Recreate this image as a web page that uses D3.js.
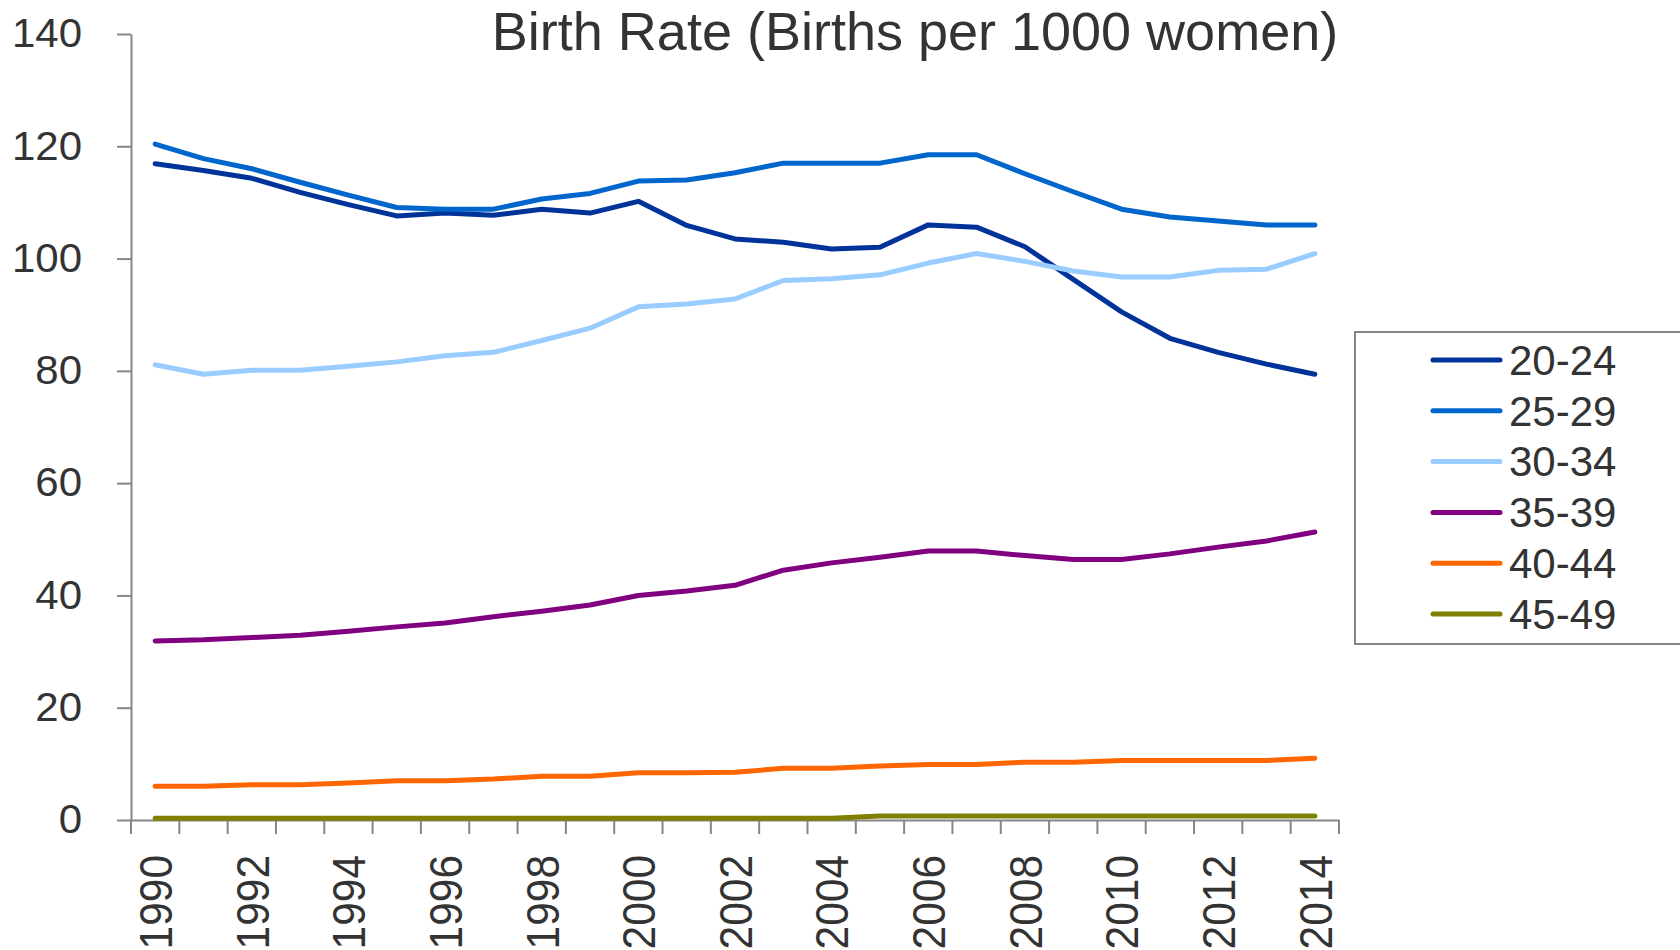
<!DOCTYPE html>
<html>
<head>
<meta charset="utf-8">
<title>Birth Rate</title>
<script src="https://cdn.jsdelivr.net/npm/d3@7"></script>
<style>
    body { margin: 0; background: #ffffff; }
    text { font-family: "Liberation Sans", Arial, sans-serif; fill: #333333; }
    .axis path, .axis line { stroke: #868686; stroke-width: 2; }
</style>
</head>
<body>
<div id="chart"></div>
<script>

// categories
const years = [1990, 1991, 1992, 1993, 1994, 1995, 1996, 1997, 1998, 1999, 2000, 2001, 2002,
               2003, 2004, 2005, 2006, 2007, 2008, 2009, 2010, 2011, 2012, 2013, 2014];

const yearLabels = [1990, 1992, 1994, 1996, 1998, 2000, 2002, 2004, 2006, 2008, 2010, 2012, 2014];

const yTicks = [0, 20, 40, 60, 80, 100, 120, 140];

// series values (births per 1000 women)
const age2024 = [116.9, 115.7, 114.3, 111.8, 109.6, 107.6, 108.1, 107.7, 108.8, 108.1, 110.2, 105.9, 103.5,
                 102.9, 101.7, 102.0, 106.0, 105.6, 102.1, 96.3, 90.5, 85.8, 83.3, 81.2, 79.4];
const age2529 = [120.4, 117.8, 116.0, 113.6, 111.3, 109.1, 108.8, 108.8, 110.6, 111.6, 113.8, 114.0, 115.3,
                 117.0, 117.0, 117.0, 118.5, 118.5, 115.1, 111.9, 108.8, 107.4, 106.7, 106.0, 106.0];
const age3034 = [81.1, 79.4, 80.1, 80.1, 80.8, 81.6, 82.7, 83.3, 85.4, 87.6, 91.4, 91.9, 92.8,
                 96.1, 96.4, 97.1, 99.2, 100.9, 99.5, 97.8, 96.7, 96.7, 97.9, 98.1, 100.9];
const age3539 = [31.9, 32.1, 32.5, 32.9, 33.6, 34.4, 35.1, 36.2, 37.2, 38.3, 40.0, 40.8, 41.8,
                 44.5, 45.8, 46.8, 47.9, 47.9, 47.1, 46.4, 46.4, 47.4, 48.6, 49.7, 51.3];
const age4044 = [6.0, 6.0, 6.3, 6.3, 6.6, 7.0, 7.0, 7.3, 7.8, 7.8, 8.4, 8.4, 8.5,
                 9.2, 9.2, 9.6, 9.9, 9.9, 10.3, 10.3, 10.6, 10.6, 10.6, 10.6, 11.0];
const age4549 = [0.3, 0.3, 0.3, 0.3, 0.3, 0.3, 0.3, 0.3, 0.3, 0.3, 0.3, 0.3, 0.3,
                 0.3, 0.3, 0.7, 0.7, 0.7, 0.7, 0.7, 0.7, 0.7, 0.7, 0.7, 0.7];

const seriesNames = ['20-24', '25-29', '30-34', '35-39', '40-44', '45-49'];
const seriesColors = ['#003399', '#0066cc', '#99ccff', '#800080', '#ff6600', '#808000'];
const seriesValues = [age2024, age2529, age3034, age3539, age4044, age4549];


function createSVG(containerId, width, height) {

    try {

        let svg = d3.select(containerId)
            .append('svg')
            .attr('width', width)
            .attr('height', height)
            .attr('viewBox', '0 0 ' + width + ' ' + height);
        return svg;

    } catch (error) {

        console.log('createSVG. Error: ' + error);
        return null;
    }
}

function drawAxes(svg, x, y) {

    try {

        // y axis
        svg.append('g')
            .attr('class', 'axis')
            .attr('transform', 'translate(' + x.range()[0] + ',0)')
            .call(d3.axisLeft(y).tickValues(yTicks).tickSize(14).tickSizeOuter(0))
            .selectAll('text')
            .style('font-size', '40px')
            .attr('fill', '#333333')
            .attr('x', 0)
            .attr('transform', 'translate(-49,0) scale(1.05,1)');

        // x axis line and labels
        let xAxis = svg.append('g')
            .attr('class', 'axis')
            .attr('transform', 'translate(0,' + y(0) + ')')
            .call(d3.axisBottom(x).tickValues(yearLabels).tickSize(0).tickSizeOuter(0));

        xAxis.selectAll('text')
            .style('font-size', '42.5px')
            .attr('fill', '#333333')
            .attr('text-anchor', 'end')
            .attr('transform', 'scale(1.1,1) rotate(-90)')
            .attr('x', -35)
            .attr('y', 0)
            .attr('dy', '0.36em');

        // tick marks sit on the category boundaries
        let edges = d3.range(years.length + 1).map(i => x.range()[0] + i * x.step());
        xAxis.selectAll('line.edge')
            .data(edges).enter()
            .append('line')
            .attr('class', 'edge')
            .attr('x1', d => d).attr('x2', d => d)
            .attr('y1', 0).attr('y2', 14);

    } catch (error) {

        console.log('drawAxes. Error: ' + error);
    }
}

function drawLines(svg, x, y) {

    try {

        let line = d3.line()
            .x((d, i) => x(years[i]) + x.bandwidth() / 2)
            .y(d => y(d));

        svg.append('g')
            .selectAll('path')
            .data(seriesValues).enter()
            .append('path')
            .attr('d', d => line(d))
            .attr('fill', 'none')
            .attr('stroke', (d, i) => seriesColors[i])
            .attr('stroke-width', 5)
            .attr('stroke-linecap', 'round')
            .attr('stroke-linejoin', 'round');

    } catch (error) {

        console.log('drawLines. Error: ' + error);
    }
}

function drawLegend(svg, left, top, rowHeight) {

    try {

        let legend = svg.append('g');

        legend.append('rect')
            .attr('x', left)
            .attr('y', top)
            .attr('width', 400)
            .attr('height', 312)
            .attr('fill', '#ffffff')
            .attr('stroke', '#868686')
            .attr('stroke-width', 2);

        let rows = legend.selectAll('g.row')
            .data(seriesNames).enter()
            .append('g')
            .attr('class', 'row')
            .attr('transform', (d, i) => 'translate(' + (left + 78) + ',' + (top + 28 + i * rowHeight) + ')');

        rows.append('line')
            .attr('x1', 0).attr('x2', 67)
            .attr('y1', 0).attr('y2', 0)
            .attr('stroke', (d, i) => seriesColors[i])
            .attr('stroke-width', 5)
            .attr('stroke-linecap', 'round');

        rows.append('text')
            .attr('x', 76)
            .attr('dy', '0.35em')
            .style('font-size', '42px')
            .text(d => d);

    } catch (error) {

        console.log('drawLegend. Error: ' + error);
    }
}


let svg = createSVG('#chart', 1680, 950);

svg.append('rect').attr('width', 1680).attr('height', 950).attr('fill', '#ffffff');

let x = d3.scaleBand().domain(years).range([131, 1339]);
let y = d3.scaleLinear().domain([0, 140]).range([820, 34]);

svg.append('text')
    .attr('x', 915)
    .attr('y', 50)
    .attr('text-anchor', 'middle')
    .style('font-size', '54px')
    .text('Birth Rate (Births per 1000 women)');

drawAxes(svg, x, y);
drawLines(svg, x, y);
drawLegend(svg, 1355, 332, 50.8);

</script>
</body>
</html>
